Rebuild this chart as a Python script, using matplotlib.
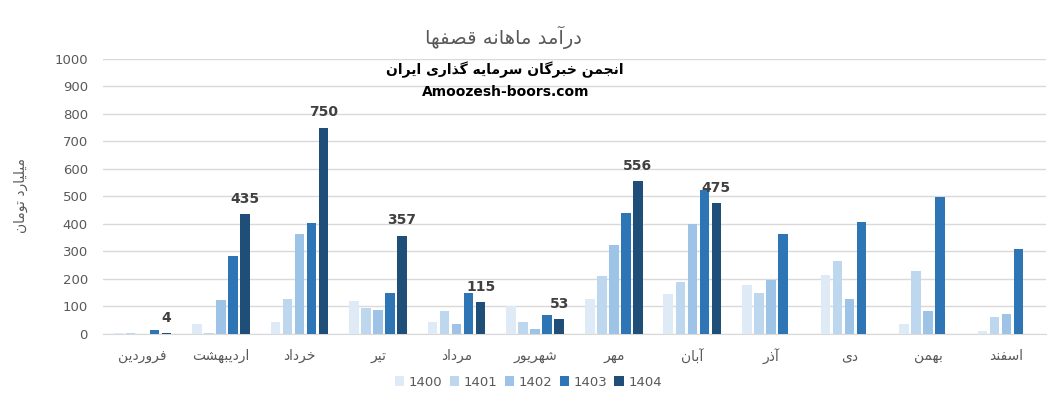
import numpy as np
import matplotlib
matplotlib.use("Agg")
import matplotlib.pyplot as plt

months = ['فروردین', 'اردیبهشت', 'خرداد', 'تیر', 'مرداد', 'شهریور',
          'مهر', 'آبان', 'آذر', 'دی', 'بهمن', 'اسفند']
years = ['1400', '1401', '1402', '1403', '1404']
v1400 = [3, 37, 45, 120, 45, 102, 128, 146, 178, 214, 36, 10]
v1401 = [4, 4, 128, 95, 85, 45, 212, 190, 149, 265, 230, 61]
v1402 = [0, 125, 362, 88, 37, 18, 325, 400, 196, 127, 84, 72]
v1403 = [15, 282, 405, 150, 150, 70, 438, 522, 363, 408, 499, 309]
v1404 = [4, 435, 750, 357, 115, 53, 556, 475, None, None, None, None]
colors = ['#DEEBF7', '#BDD7EE', '#9DC3E6', '#2E75B6', '#1F4E79']

title = 'درآمد ماهانه قصفها'
sub1 = 'انجمن خبرگان سرمایه گذاری ایران'
sub2 = 'Amoozesh-boors.com'
ylabel = 'میلیارد تومان'

# matplotlib has no arabic shaping, so pick presentation forms by hand
# forms: isolated, final, initial, medial
FORMS = {
    'ا': (0xFE8D, 0xFE8E), 'آ': (0xFE81, 0xFE82),
    'ب': (0xFE8F, 0xFE90, 0xFE91, 0xFE92), 'ت': (0xFE95, 0xFE96, 0xFE97, 0xFE98),
    'ج': (0xFE9D, 0xFE9E, 0xFE9F, 0xFEA0), 'خ': (0xFEA5, 0xFEA6, 0xFEA7, 0xFEA8),
    'د': (0xFEA9, 0xFEAA), 'ذ': (0xFEAB, 0xFEAC), 'ر': (0xFEAD, 0xFEAE),
    'ز': (0xFEAF, 0xFEB0), 'س': (0xFEB1, 0xFEB2, 0xFEB3, 0xFEB4),
    'ش': (0xFEB5, 0xFEB6, 0xFEB7, 0xFEB8), 'ص': (0xFEB9, 0xFEBA, 0xFEBB, 0xFEBC),
    'ف': (0xFED1, 0xFED2, 0xFED3, 0xFED4), 'ق': (0xFED5, 0xFED6, 0xFED7, 0xFED8),
    'ل': (0xFEDD, 0xFEDE, 0xFEDF, 0xFEE0), 'م': (0xFEE1, 0xFEE2, 0xFEE3, 0xFEE4),
    'ن': (0xFEE5, 0xFEE6, 0xFEE7, 0xFEE8), 'ه': (0xFEE9, 0xFEEA, 0xFEEB, 0xFEEC),
    'و': (0xFEED, 0xFEEE), 'ی': (0xFBFC, 0xFBFD, 0xFBFE, 0xFBFF),
    'گ': (0xFB92, 0xFB93, 0xFB94, 0xFB95),
}


def fa(s):
    out = []
    for i, c in enumerate(s):
        if c not in FORMS:
            out.append(c)
            continue
        f = FORMS[c]
        prev = s[i - 1] if i > 0 else ''
        nxt = s[i + 1] if i + 1 < len(s) else ''
        jp = prev in FORMS and len(FORMS[prev]) == 4
        jn = len(f) == 4 and nxt in FORMS
        if jp and jn:
            k = 3
        elif jn:
            k = 2
        elif jp:
            k = 1
        else:
            k = 0
        out.append(chr(f[k]))
    return ''.join(out[::-1])


plt.rcParams['font.family'] = ['DejaVu Sans']
fig = plt.figure(figsize=(10.57, 3.98), dpi=100)
ax = fig.add_axes([0.0975, 0.161, 0.892, 0.691])

series = [v1400, v1401, v1402, v1403, v1404]
x = np.arange(len(months))
step = 0.153
w = 0.122
for j, vals in enumerate(series):
    pos = x + (j - 2) * step
    h = [np.nan if v is None else v for v in vals]
    ax.bar(pos, h, width=w, color=colors[j], label=years[j], zorder=3)
    if j == 4:
        for p, v in zip(pos, vals):
            if v is not None:
                ax.text(p, v + 30, str(v), ha='center', va='bottom',
                        fontsize=10, fontweight='bold', color='#404040')

ax.set_xlim(-0.5, len(months) - 0.5)
ax.set_ylim(0, 1000)
ax.set_yticks(np.arange(0, 1001, 100))
ax.set_xticks(x)
ax.set_xticklabels([fa(m) for m in months], fontsize=10, color='#595959')
ax.tick_params(axis='y', labelsize=9.5, colors='#595959', length=0, pad=11)
ax.tick_params(axis='x', length=0, pad=11)
ax.grid(axis='y', color='#D9D9D9', linewidth=1, zorder=0)
for s in ['top', 'right', 'left']:
    ax.spines[s].set_visible(False)
ax.spines['bottom'].set_color('#D9D9D9')

fig.text(0.476, 0.907, fa(title), ha='center', va='center', fontsize=14, color='#595959')
fig.text(0.478, 0.824, fa(sub1), ha='center', va='center', fontsize=10,
         fontweight='bold', color='black')
fig.text(0.478, 0.769, sub2, ha='center', va='center', fontsize=10,
         fontweight='bold', color='black')
fig.text(0.02, 0.51, fa(ylabel), ha='center', va='center', rotation=90,
         fontsize=10, color='#595959')

leg = fig.legend(loc='center', bbox_to_anchor=(0.5, 0.04), ncol=5, frameon=False,
                 fontsize=9.5, handlelength=0.7, handleheight=0.7, columnspacing=0.55,
                 handletextpad=0.35)
for t in leg.get_texts():
    t.set_color('#595959')

fig.savefig('out.png', dpi=100)
